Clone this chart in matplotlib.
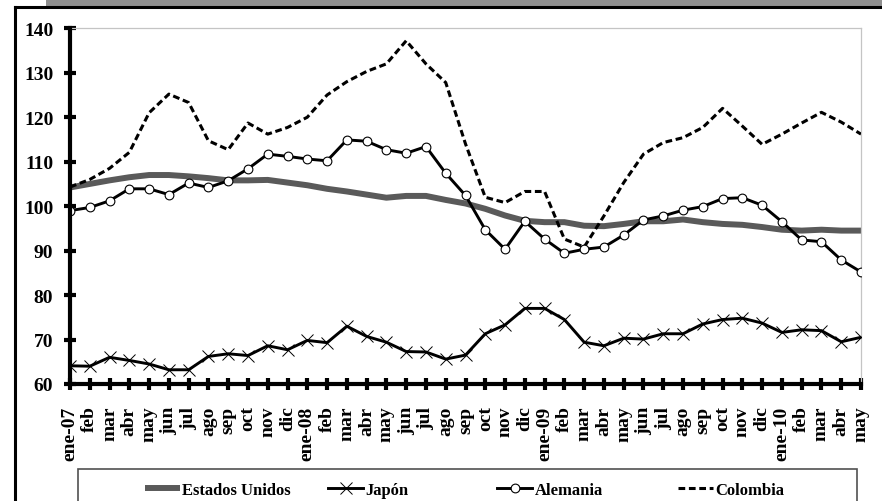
import matplotlib
matplotlib.use("Agg")
import matplotlib.pyplot as plt
from matplotlib.lines import Line2D
from matplotlib.patches import Rectangle
import numpy as np

# month labels, ene-07 .. may-10
meses = ["ene-07", "feb", "mar", "abr", "may", "jun", "jul", "ago", "sep", "oct", "nov", "dic",
         "ene-08", "feb", "mar", "abr", "may", "jun", "jul", "ago", "sep", "oct", "nov", "dic",
         "ene-09", "feb", "mar", "abr", "may", "jun", "jul", "ago", "sep", "oct", "nov", "dic",
         "ene-10", "feb", "mar", "abr", "may"]

estados_unidos = [104.2, 105.0, 105.8, 106.5, 107.0, 107.0, 106.7, 106.3, 105.8, 105.8, 105.9, 105.3,
                  104.7, 103.9, 103.3, 102.6, 101.9, 102.3, 102.3, 101.4, 100.6, 99.4, 97.9, 96.7,
                  96.4, 96.4, 95.6, 95.5, 96.0, 96.6, 96.6, 97.0, 96.4, 96.0, 95.8, 95.3,
                  94.7, 94.5, 94.7, 94.5, 94.5]

japon = [64.1, 64.0, 66.0, 65.3, 64.5, 63.2, 63.2, 66.2, 66.8, 66.4, 68.6, 67.7,
         69.8, 69.3, 73.0, 70.7, 69.4, 67.3, 67.2, 65.6, 66.5, 71.3, 73.3, 77.0,
         77.0, 74.5, 69.4, 68.6, 70.3, 70.1, 71.3, 71.3, 73.5, 74.5, 74.8, 73.7,
         71.6, 72.2, 72.0, 69.5, 70.5]

alemania = [99.0, 99.7, 101.2, 103.9, 103.9, 102.6, 105.2, 104.2, 105.7, 108.4, 111.7, 111.2,
            110.6, 110.2, 114.9, 114.6, 112.7, 111.9, 113.4, 107.4, 102.4, 94.7, 90.3, 96.6,
            92.6, 89.4, 90.3, 90.8, 93.5, 96.9, 97.8, 99.1, 99.9, 101.7, 101.9, 100.2,
            96.5, 92.4, 92.0, 87.9, 85.2]

colombia = [104.3, 106.0, 108.5, 112.1, 121.0, 125.2, 123.3, 114.7, 112.7, 118.7, 116.2, 117.7,
            120.0, 125.0, 128.0, 130.3, 132.0, 137.2, 132.0, 127.8, 114.0, 102.0, 100.8, 103.3,
            103.3, 92.6, 90.8, 97.8, 105.3, 111.7, 114.3, 115.4, 117.7, 122.0, 118.0, 113.9,
            116.2, 118.7, 121.1, 118.9, 116.2]

serif = ["Liberation Serif", "DejaVu Serif"]

W, H = 882, 502
fig = plt.figure(figsize=(W / 100, H / 100), dpi=100)
fig.patch.set_facecolor("white")

# outer chart frame (gray band on top, black edges)
fig.add_artist(Rectangle((46 / W, 1 - 7 / H), 1, 7 / H, transform=fig.transFigure,
                         facecolor="#8f8f8f", edgecolor="none"))
fig.add_artist(Line2D([15 / W, 1], [1 - 8 / H, 1 - 8 / H], transform=fig.transFigure,
                      color="black", lw=2.2))
fig.add_artist(Line2D([15 / W, 15 / W], [1 - 8 / H, 0], transform=fig.transFigure,
                      color="black", lw=2.2))

ax = fig.add_axes([70 / W, 1 - 385 / H, (861 - 70) / W, (385 - 29.3) / H])

x = np.arange(len(meses))
ax.plot(x, estados_unidos, color="#5a5a5a", lw=4.3, solid_capstyle="butt",
        label="Estados Unidos", zorder=2)
ax.plot(x, japon, color="black", lw=2.1, marker="x", markersize=8.5,
        markeredgewidth=0.7, label="Japón", zorder=3)
ax.plot(x, alemania, color="black", lw=2.1, marker="o", markersize=6.3,
        markerfacecolor="white", markeredgecolor="black", markeredgewidth=0.8,
        label="Alemania", zorder=4)
ax.plot(x, colombia, color="black", lw=2.2, linestyle=(0, (2.2, 1.2)),
        label="Colombia", zorder=3)

ax.set_xlim(0, len(meses) - 1)
ax.set_ylim(60, 140)
ax.set_yticks(np.arange(60, 141, 10))
ax.set_xticks(x)
ax.set_xticklabels(meses, rotation=90, fontfamily=serif, fontweight="bold", fontsize=14)
for lab in ax.get_yticklabels():
    lab.set_fontfamily(serif)
    lab.set_fontweight("bold")
    lab.set_fontsize(14)

ax.tick_params(axis="both", direction="inout", length=8, width=3, color="black")
ax.tick_params(axis="y", pad=8)
ax.tick_params(axis="x", pad=11.5)

for side in ["left", "bottom"]:
    ax.spines[side].set_linewidth(3)
    ax.spines[side].set_color("black")
for side in ["top", "right"]:
    ax.spines[side].set_linewidth(0.9)
    ax.spines[side].set_color("#c4c4c4")
ax.spines["left"].set_zorder(5)
ax.spines["bottom"].set_zorder(5)

# legend box, running off the bottom of the picture
fig.add_artist(Rectangle((78 / W, -0.05), (857 - 78) / W, (502 - 470) / H + 0.05,
                         transform=fig.transFigure, facecolor="none",
                         edgecolor="#505050", lw=1.2))

handles, labels = ax.get_legend_handles_labels()
starts = [145, 328, 497, 678]
for h, l, s in zip(handles, labels, starts):
    leg = fig.legend([h], [l], loc="center left", bbox_to_anchor=(s / W, 1 - 491 / H),
                     frameon=False, borderpad=0, borderaxespad=0, handlelength=2.1,
                     handletextpad=0.15, prop={"family": serif, "weight": "bold", "size": 12})

fig.savefig("out.png", dpi=100)
